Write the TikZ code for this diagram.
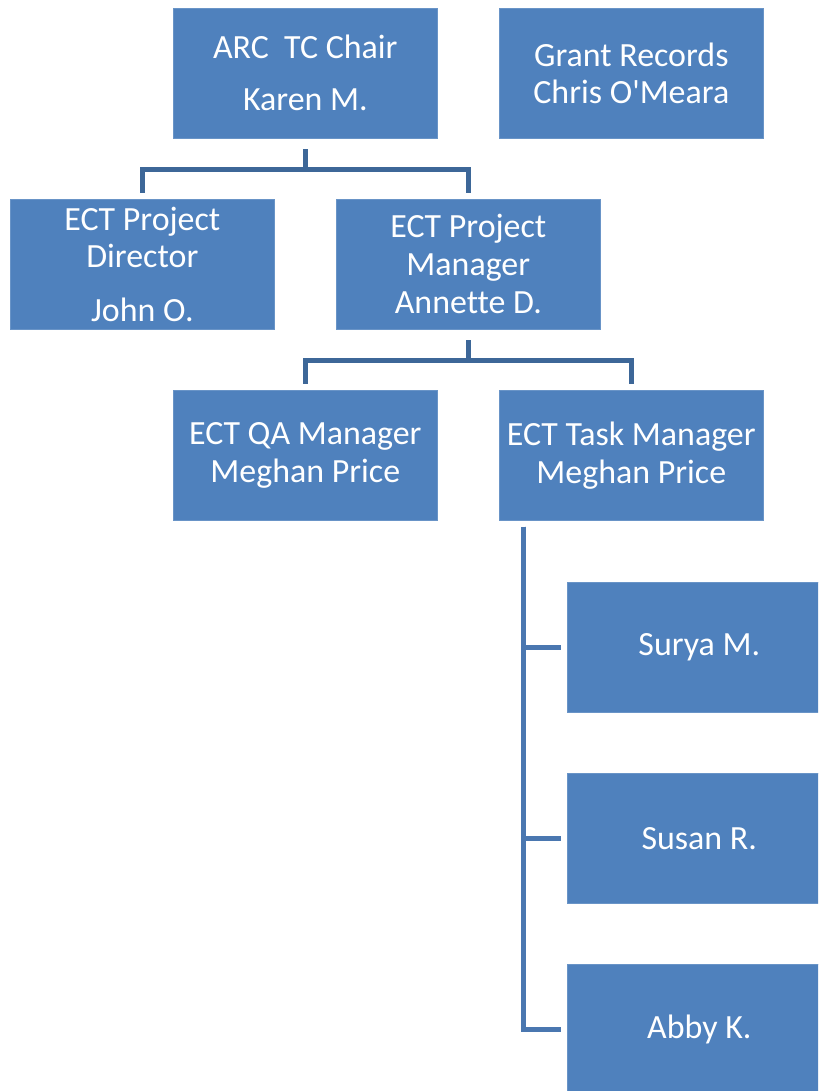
\documentclass[tikz,border=0pt]{standalone}
\usepackage{fontspec}
\setmainfont{Carlito}[Ligatures=NoCommon]
\usepackage{tikz}
\definecolor{boxblue}{HTML}{4F81BD}
\definecolor{linkdark}{HTML}{3D6798}
\definecolor{linkblue}{HTML}{4A77B0}
\tikzset{
  person/.style={fill=boxblue, draw=boxblue!85!white, line width=0.4pt, text=white,
    minimum width=5.28cm, minimum height=2.6cm, inner sep=0pt, anchor=north west,
    align=center, font=\fontsize{19.3}{21.6}\selectfont},
  link/.style={draw=linkdark, line width=0.1cm},
  sublink/.style={draw=linkblue, line width=0.1cm}
}

\begin{document}
\begin{tikzpicture}[x=0.02cm, y=-0.02cm]
\useasboundingbox (0,0) rectangle (818,1091);
\clip (0,0) rectangle (818,1091);
\node[person] (chair) at (173,8) {ARC\ \ TC Chair\\[8pt]Karen M.};
\node[person] (grant) at (499,8) {Grant Records\\Chris O\textquotesingle Meara};
\node[person] (director) at (10,199) {ECT Project\\Director\\[9pt]John O.};
\node[person] (pm) at (336,199) {ECT Project\\Manager\\Annette D.};
\node[person] (qa) at (173,390) {ECT QA Manager\\Meghan Price};
\node[person] (task) at (499,390) {ECT Task Manager\\Meghan Price};
\node[person] (surya) at (567,582) {Surya M.};
\node[person] (susan) at (567,773) {Susan R.};
\node[person] (abby) at (567,964) {Abby K.};

\draw[link, shorten <=6pt] (chair.south) -- ++(0,31) -| ([yshift=0.12cm]director.north);
\draw[link, shorten <=6pt] (chair.south) -- ++(0,31) -| ([yshift=0.12cm]pm.north);
\draw[link, shorten <=6pt] (pm.south) -- ++(0,31) -| ([yshift=0.12cm]qa.north);
\draw[link, shorten <=6pt] (pm.south) -- ++(0,31) -| ([yshift=0.12cm]task.north);

\coordinate (trunk) at ([xshift=0.48cm, yshift=-0.12cm]task.south west);
\draw[sublink] (trunk) |- ([xshift=-0.12cm]surya.west);
\draw[sublink] (trunk) |- ([xshift=-0.12cm]susan.west);
\draw[sublink] (trunk) |- ([xshift=-0.12cm]abby.west);
\end{tikzpicture}
\end{document}
